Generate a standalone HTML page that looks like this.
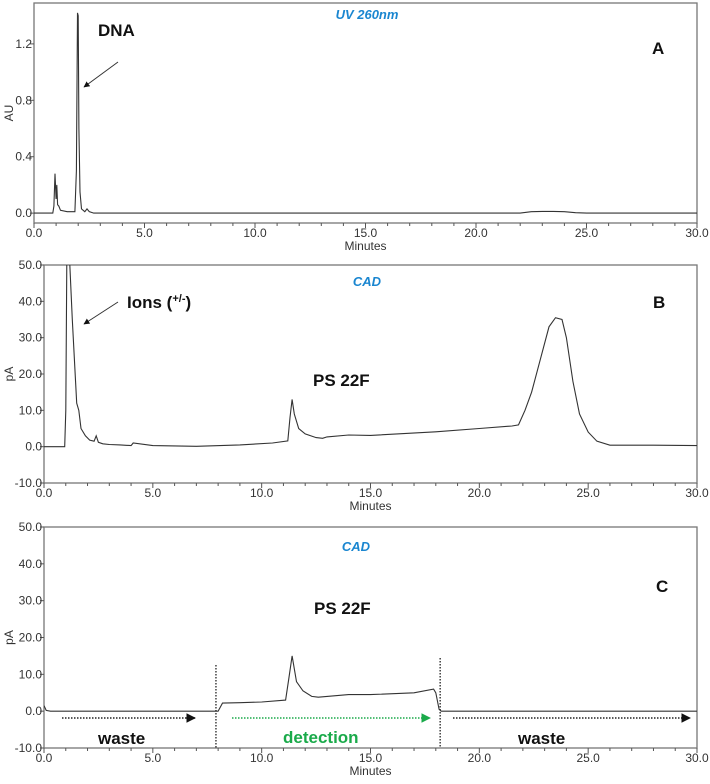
<!DOCTYPE html>
<html><head><meta charset="utf-8"><style>
body{margin:0;background:#fff;}
svg{display:block;font-family:"Liberation Sans",sans-serif;}
.tk{font-size:12px;fill:#333;}
.ann{font-size:17px;font-weight:bold;fill:#111;}
.blue{font-size:13px;font-weight:bold;font-style:italic;fill:#1a86d0;}
</style></head><body>
<svg id="chart" width="710" height="784" viewBox="0 0 710 784">
<defs>
<marker id="ah" viewBox="0 0 10 10" refX="9" refY="5" markerWidth="6" markerHeight="6" orient="auto"><path d="M0,0L10,5L0,10z" fill="#111"/></marker>
<marker id="ahg" viewBox="0 0 10 10" refX="9" refY="5" markerWidth="6" markerHeight="6" orient="auto"><path d="M0,0L10,5L0,10z" fill="#1aaa4a"/></marker>
</defs>
</svg>
<script>
// Panel A (UV 260nm)
const timesA = [0,0.85,0.9,0.95,1.0,1.03,1.07,1.12,1.2,1.5,1.85,1.92,1.97,2.0,2.03,2.08,2.15,2.3,2.4,2.5,2.7,5,22,22.5,23,23.5,24,24.5,25,30];
const valuesA = [0,0,0.05,0.28,0.1,0.2,0.06,0.05,0.02,0.01,0.01,0.3,1.42,1.4,0.6,0.15,0.03,0.01,0.03,0.01,0,0,0,0.01,0.012,0.012,0.01,0.003,0,0];
// Panel B (CAD)
const timesB = [0,0.95,1.0,1.05,1.15,1.3,1.5,1.6,1.7,1.9,2.1,2.3,2.4,2.5,2.7,3,3.5,4,4.1,5,7,9,10.5,11.2,11.3,11.4,11.5,11.7,12,12.5,12.8,13,14,15,18,20,21.5,21.8,22.1,22.4,22.8,23.2,23.5,23.8,24.0,24.3,24.6,25,25.4,26,28,30];
const valuesB = [0,0,10,55,55,35,12,10,5,3,1.8,1.5,3,1.2,0.8,0.6,0.5,0.3,1,0.3,0.1,0.5,1,1.6,8,13,9,5,3.5,2.5,2.3,2.7,3.2,3.1,4.1,5,5.7,6,10,15,24,33,35.5,35,30,18,9,4,1.5,0.4,0.4,0.3];
// Panel C (CAD, diverted)
const timesC = [0,0.1,0.3,7.85,8.0,8.2,9,10,11.1,11.25,11.4,11.6,11.9,12.3,12.6,13,14,15,17,17.9,18.0,18.15,18.25,30];
const valuesC = [1.5,0.2,0,0,0,2.2,2.3,2.5,3,9,15,8,5.5,4,3.8,4,4.5,4.5,5,6,5,0.5,0,0];
const ticksX = ["0.0","5.0","10.0","15.0","20.0","25.0","30.0"];
const ticksA = ["0.0","0.4","0.8","1.2"];
const ticksCAD = ["-10.0","0.0","10.0","20.0","30.0","40.0","50.0"];

const svg = document.getElementById('chart');
const NS = 'http://www.w3.org/2000/svg';
function mk(tag, attrs, parent){const e=document.createElementNS(NS,tag);for(const k in attrs)e.setAttribute(k,attrs[k]);(parent||svg).appendChild(e);return e;}

const panels = [
 {id:'a', left:34, right:697, top:3, bottom:223, ymin:-0.07, ymax:1.49, ticks:ticksA, ylab:'AU', t:timesA, v:valuesA},
 {id:'b', left:44, right:697, top:265, bottom:483, ymin:-10, ymax:50, ticks:ticksCAD, ylab:'pA', t:timesB, v:valuesB},
 {id:'c', left:44, right:697, top:527, bottom:748, ymin:-10, ymax:50, ticks:ticksCAD, ylab:'pA', t:timesC, v:valuesC}
];
panels.forEach(p=>{
  const sx = x=>p.left+(x/30)*(p.right-p.left);
  const sy = y=>p.bottom-(y-p.ymin)/(p.ymax-p.ymin)*(p.bottom-p.top);
  p.sx=sx;p.sy=sy;
  const g=mk('g',{});
  
  
  const box=mk('rect',{x:p.left,y:p.top,width:p.right-p.left,height:p.bottom-p.top,fill:'none',stroke:'#777','stroke-width':1.3},g);
  
  
  for(let m=0;m<=30;m++){
    const len = m%5===0?5:3;
    mk('line',{x1:sx(m),x2:sx(m),y1:p.bottom,y2:p.bottom+len,stroke:'#555','stroke-width':1},g);
  }
  ticksX.forEach(l=>{
    const t=mk('text',{x:sx(parseFloat(l)),y:p.bottom+14,'text-anchor':'middle',class:'tk'},g);
    t.textContent=l;
    
    
  });
  p.ticks.forEach(l=>{
    const y=sy(parseFloat(l));
    mk('line',{x1:p.left-4,x2:p.left,y1:y,y2:y,stroke:'#555'},g);
    const t=mk('text',{x:p.left-2,y:y+4,'text-anchor':'end',class:'tk'},g);
    t.textContent=l;
    
    
  });
  const xt=mk('text',{x:(p.left+p.right)/2,y:p.bottom+27,'text-anchor':'middle',class:'tk'},g);
  xt.textContent='Minutes';
  
  
  const yc=sy((p.ymin+p.ymax)/2);
  const yt=mk('text',{x:13,y:yc,'text-anchor':'middle',class:'tk',transform:`rotate(-90 13 ${yc})`},g);
  yt.textContent=p.ylab;
  
  
  const cp=mk('clipPath',{id:'cp'+p.id},g);
  mk('rect',{x:p.left,y:p.top,width:p.right-p.left,height:p.bottom-p.top},cp);
  const d=p.t.map((x,i)=>(i?'L':'M')+sx(x).toFixed(1)+','+sy(p.v[i]).toFixed(1)).join('');
  const path=mk('path',{d:d,fill:'none',stroke:'#333','stroke-width':1.1,'clip-path':`url(#cp${p.id})`},g);
  
  
});

function txt(x,y,s,cls,name,extra){const t=mk('text',Object.assign({x:x,y:y,class:cls},extra||{}));t.textContent=s;
  
  
  return t;}
// Panel A annotations
txt(367,19,'UV 260nm','blue','detector-label-a',{'text-anchor':'middle'});
txt(98,36,'DNA','ann','dna-label');
txt(652,54,'A','ann','panel-letter-a',{'font-size':'19'});
const a1=mk('line',{x1:118,y1:62,x2:84,y2:87,stroke:'#333','stroke-width':1,'marker-end':'url(#ah)'});


// Panel B
txt(367,286,'CAD','blue','detector-label-b',{'text-anchor':'middle'});
const ions=txt(127,308,'Ions (','ann','ions-label');
const sup=mk('tspan',{'font-size':'11',dy:'-6'},ions);sup.textContent='+/-';
const cl=mk('tspan',{dy:'6'},ions);cl.textContent=')';
txt(313,386,'PS 22F','ann','ps22f-label-b');
txt(653,308,'B','ann','panel-letter-b',{'font-size':'19'});
const a2=mk('line',{x1:118,y1:302,x2:84,y2:324,stroke:'#333','stroke-width':1,'marker-end':'url(#ah)'});


// Panel C
txt(356,551,'CAD','blue','detector-label-c',{'text-anchor':'middle'});
txt(656,592,'C','ann','panel-letter-c',{'font-size':'19'});
txt(314,614,'PS 22F','ann','ps22f-label-c');
const pc=panels[2];
[[7.9,665],[18.2,658]].forEach(([m,y0])=>{
  const l=mk('line',{x1:pc.sx(m),x2:pc.sx(m),y1:y0,y2:pc.bottom,stroke:'#222','stroke-width':1.3,'stroke-dasharray':'1.5,1.5'});
  
  
});
[[62,195,'#222','ah','waste-arrow-1'],[232,430,'#1aaa4a','ahg','detection-arrow'],[453,690,'#222','ah','waste-arrow-2']].forEach(([x1,x2,c,m,n])=>{
  const l=mk('line',{x1:x1,x2:x2,y1:718,y2:718,stroke:c,'stroke-width':1.6,'stroke-dasharray':'1.5,1.5','marker-end':`url(#${m})`});
  
  
});
txt(98,744,'waste','ann','waste-label-1',{'font-weight':'bold'});
txt(283,743,'detection','ann','detection-label',{style:'fill:#1aaa4a'});
txt(518,744,'waste','ann','waste-label-2');
</script>
</body></html>
